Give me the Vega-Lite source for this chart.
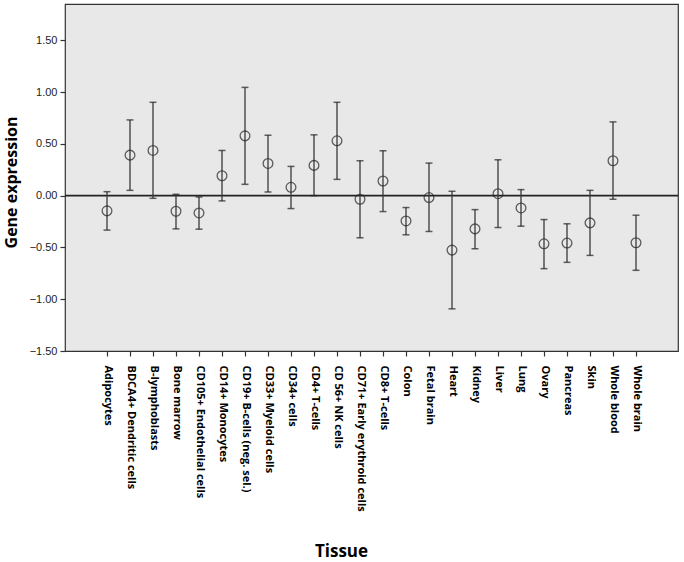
{
  "$schema": "https://vega.github.io/schema/vega-lite/v6.json",
  "autosize": {"type": "none"},
  "padding": {"left": 65, "top": 4, "right": 6, "bottom": 211},
  "width": 613,
  "height": 347,
  "background": "white",
  "config": {
    "view": {"fill": "#e8e8e8", "stroke": "#333333", "strokeWidth": 1.2},
    "axis": {"grid": false, "domain": false}
  },
  "data": {
    "values": [
      {"tissue": "Adipocytes", "mean": -0.147, "lo": -0.333, "hi": 0.038},
      {"tissue": "BDCA4+ Dendritic cells", "mean": 0.391, "lo": 0.051, "hi": 0.731},
      {"tissue": "B-lymphoblasts", "mean": 0.436, "lo": -0.026, "hi": 0.901},
      {"tissue": "Bone marrow", "mean": -0.151, "lo": -0.321, "hi": 0.013},
      {"tissue": "CD105+ Endothelial cells", "mean": -0.167, "lo": -0.324, "hi": -0.013},
      {"tissue": "CD14+ Monocytes", "mean": 0.192, "lo": -0.051, "hi": 0.436},
      {"tissue": "CD19+ B-cells (neg. sel.)", "mean": 0.577, "lo": 0.109, "hi": 1.045},
      {"tissue": "CD33+ Myeloid cells", "mean": 0.311, "lo": 0.035, "hi": 0.583},
      {"tissue": "CD34+ cells", "mean": 0.080, "lo": -0.125, "hi": 0.282},
      {"tissue": "CD4+ T-cells", "mean": 0.292, "lo": 0.0, "hi": 0.587},
      {"tissue": "CD 56+ NK cells", "mean": 0.529, "lo": 0.157, "hi": 0.901},
      {"tissue": "CD71+ Early erythroid cells", "mean": -0.035, "lo": -0.407, "hi": 0.337},
      {"tissue": "CD8+ T-cells", "mean": 0.141, "lo": -0.154, "hi": 0.433},
      {"tissue": "Colon", "mean": -0.244, "lo": -0.378, "hi": -0.115},
      {"tissue": "Fetal brain", "mean": -0.019, "lo": -0.346, "hi": 0.314},
      {"tissue": "Heart", "mean": -0.526, "lo": -1.093, "hi": 0.042},
      {"tissue": "Kidney", "mean": -0.321, "lo": -0.513, "hi": -0.135},
      {"tissue": "Liver", "mean": 0.019, "lo": -0.308, "hi": 0.346},
      {"tissue": "Lung", "mean": -0.119, "lo": -0.295, "hi": 0.058},
      {"tissue": "Ovary", "mean": -0.465, "lo": -0.705, "hi": -0.231},
      {"tissue": "Pancreas", "mean": -0.458, "lo": -0.644, "hi": -0.272},
      {"tissue": "Skin", "mean": -0.263, "lo": -0.577, "hi": 0.051},
      {"tissue": "Whole blood", "mean": 0.337, "lo": -0.035, "hi": 0.712},
      {"tissue": "Whole brain", "mean": -0.455, "lo": -0.721, "hi": -0.189}
    ]
  },
  "encoding": {
    "x": {
      "field": "tissue",
      "type": "nominal",
      "sort": null,
      "scale": {"type": "point", "range": [42, 571], "padding": 0},
      "axis": {
        "title": "Tissue",
        "titleFont": "Open Sans",
        "titleFontSize": 17,
        "titleFontWeight": "bold",
        "titleColor": "#000000",
        "titleX": 276,
        "titleY": 200,
        "titleBaseline": "middle",
        "labelAngle": 90,
        "labelAlign": "left",
        "labelBaseline": "middle",
        "labelFont": "Open Sans",
        "labelFontSize": 11,
        "labelFontWeight": "bold",
        "labelColor": "#000000",
        "labelPadding": 9,
        "labelOverlap": false,
        "tickSize": 5,
        "tickColor": "#333333",
        "tickWidth": 1.2
      }
    }
  },
  "layer": [
    {
      "mark": {"type": "rule", "color": "#222222", "strokeWidth": 1.6},
      "data": {"values": [{"z": 0}]},
      "encoding": {"y": {"field": "z", "type": "quantitative"}, "x": null}
    },
    {
      "mark": {"type": "rule", "color": "#3a3a3a", "strokeWidth": 1.3},
      "encoding": {
        "y": {
          "field": "lo",
          "type": "quantitative",
          "scale": {"domain": [-1.5, 1.85], "nice": false, "zero": false},
          "axis": {
            "title": "Gene expression",
            "titleFont": "Open Sans",
            "titleFontSize": 16,
            "titleFontWeight": "bold",
            "titleColor": "#000000",
            "titleY": 178,
            "titlePadding": 10,
            "values": [-1.5, -1, -0.5, 0, 0.5, 1, 1.5],
            "format": ".2f",
            "labelFont": "Liberation Sans",
            "labelFontSize": 11,
            "labelColor": "#222222",
            "labelPadding": 3,
            "tickSize": 5,
            "tickColor": "#333333",
            "tickWidth": 1.2
          }
        },
        "y2": {"field": "hi"}
      }
    },
    {
      "mark": {"type": "tick", "color": "#222222", "size": 7, "thickness": 1.5},
      "encoding": {"y": {"field": "lo", "type": "quantitative"}}
    },
    {
      "mark": {"type": "tick", "color": "#222222", "size": 7, "thickness": 1.5},
      "encoding": {"y": {"field": "hi", "type": "quantitative"}}
    },
    {
      "mark": {"type": "point", "shape": "circle", "filled": false, "color": "#222222", "size": 95, "strokeWidth": 1.3},
      "encoding": {"y": {"field": "mean", "type": "quantitative"}}
    }
  ]
}
